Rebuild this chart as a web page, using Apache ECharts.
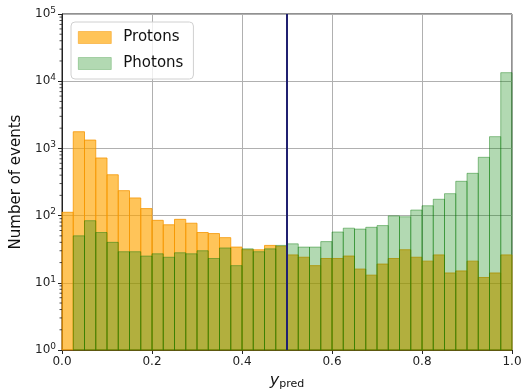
<!DOCTYPE html>
<html>
<head>
<meta charset="utf-8">
<script src="https://cdn.jsdelivr.net/npm/echarts@6/dist/echarts.min.js"></script>
<style>
  html, body { margin: 0; padding: 0; background: #fff; }
  #chart { width: 523px; height: 389px; }
</style>
</head>
<body>
<div id="chart"></div>
<script>
// Histogram of the classifier output y_pred: 40 bins of width 0.025 on [0, 1]
const binEdges = [0.000, 0.025, 0.050, 0.075, 0.100, 0.125, 0.150, 0.175, 0.200, 0.225,
                  0.250, 0.275, 0.300, 0.325, 0.350, 0.375, 0.400, 0.425, 0.450, 0.475,
                  0.500, 0.525, 0.550, 0.575, 0.600, 0.625, 0.650, 0.675, 0.700, 0.725,
                  0.750, 0.775, 0.800, 0.825, 0.850, 0.875, 0.900, 0.925, 0.950, 0.975, 1.000];

const protonCounts = [112, 1770, 1330, 720, 405, 235, 183, 127, 85, 73,
                      88, 77, 56, 54, 47, 34, 31, 31, 36, 35,
                      26, 24, 18, 23, 23, 25, 16, 13, 19, 23,
                      31, 24, 21, 26, 14, 15, 21, 12, 14, 26];

const photonCounts = [0, 50, 84, 56, 40, 29, 29, 25, 27, 24,
                      28, 27, 30, 23, 33, 18, 32, 29, 32, 36,
                      38, 34, 34, 41, 57, 65, 63, 67, 71, 99,
                      96, 121, 140, 175, 212, 324, 426, 737, 1496, 13400];

const yTickValues = [1, 10, 100, 1000, 10000, 100000];
const xTickValues = [0, 0.2, 0.4, 0.6, 0.8, 1.0];
const cutValue = 0.5;

function histData(counts) {
  return counts.map((c, i) => [binEdges[i], binEdges[i + 1], c]);
}

function barRenderer(fill, stroke) {
  return function (params, api) {
    const count = api.value(2);
    if (!(count > 0)) return null;
    const p0 = api.coord([api.value(0), count]);
    const p1 = api.coord([api.value(1), 1]);
    return {
      type: 'rect',
      shape: { x: p0[0], y: p0[1], width: p1[0] - p0[0], height: p1[1] - p0[1] },
      style: { fill: fill, stroke: stroke, lineWidth: 1 }
    };
  };
}

// minor ticks of the log axis at 2..9 x 10^k
const minorTickValues = [];
for (let k = 0; k < 5; k++) {
  for (let m = 2; m <= 9; m++) minorTickValues.push([m * Math.pow(10, k)]);
}

const orangeFill = 'rgba(255,165,0,0.65)';
const orangeEdge = 'rgba(245,150,0,0.8)';
const greenFill = 'rgba(0,128,0,0.3)';
const greenEdge = 'rgba(0,120,0,0.42)';

const chart = echarts.init(document.getElementById('chart'), null, { renderer: 'canvas' });

chart.setOption({
  animation: false,
  textStyle: { fontFamily: 'DejaVu Sans' },
  grid: {
    left: 62, right: 11, top: 14, bottom: 39,
    outerBoundsMode: 'none',
    containLabel: false,
    show: true, borderColor: '#222', borderWidth: 1, backgroundColor: 'transparent'
  },
  legend: {
    left: 71, top: 22,
    orient: 'vertical',
    itemWidth: 33, itemHeight: 12, itemGap: 11,
    padding: [8, 10, 8, 7],
    backgroundColor: 'rgba(255,255,255,0.8)',
    borderColor: '#d0d0d0', borderWidth: 1, borderRadius: 4,
    textStyle: { fontSize: 15, color: '#111', padding: [0, 0, 0, 7] },
    itemStyle: { borderWidth: 0.6 },
    icon: 'rect',
    data: ['Protons', 'Photons']
  },
  xAxis: {
    type: 'value', min: 0, max: 1, interval: 0.2,
    name: '{i|y}{s|pred}',
    nameLocation: 'middle', nameGap: 22,
    nameTextStyle: {
      rich: {
        i: { fontSize: 16, fontStyle: 'italic', color: '#111', fontFamily: 'DejaVu Sans' },
        s: { fontSize: 11, color: '#111', fontFamily: 'DejaVu Sans', padding: [6, 0, 0, 0] }
      }
    },
    axisLine: { show: true, onZero: false, lineStyle: { color: '#222', width: 1 } },
    axisTick: { show: true, inside: false, length: 4, lineStyle: { color: '#222' } },
    axisLabel: { fontSize: 12, color: '#222', margin: 6, formatter: v => v.toFixed(1) },
    splitLine: { show: true, lineStyle: { color: '#b0b0b0', width: 1 } }
  },
  yAxis: {
    type: 'log', logBase: 10, min: 1, max: 100000,
    name: 'Number of events',
    nameLocation: 'middle', nameGap: 35,
    nameTextStyle: { fontSize: 15, color: '#111' },
    axisLine: { show: true, lineStyle: { color: '#222', width: 1 } },
    axisTick: { show: true, inside: false, length: 4, lineStyle: { color: '#222' } },
    axisLabel: {
      color: '#222', margin: 6,
      formatter: v => '{b|10}{e|' + Math.round(Math.log10(v)) + '}',
      rich: {
        b: { fontSize: 12, color: '#222' },
        e: { fontSize: 9, color: '#222', padding: [0, 0, 7, 0] }
      }
    },
    splitLine: { show: true, lineStyle: { color: '#b0b0b0', width: 1 } }
  },
  series: [
    {
      name: 'Protons',
      type: 'custom',
      renderItem: barRenderer(orangeFill, orangeEdge),
      itemStyle: { color: orangeFill, borderColor: orangeEdge, borderWidth: 1 },
      encode: { x: [0, 1], y: 2 },
      data: histData(protonCounts),
      z: 2
    },
    {
      name: 'Photons',
      type: 'custom',
      renderItem: barRenderer(greenFill, greenEdge),
      itemStyle: { color: greenFill, borderColor: greenEdge, borderWidth: 1 },
      encode: { x: [0, 1], y: 2 },
      data: histData(photonCounts),
      z: 3,
      markLine: {
        silent: true,
        symbol: 'none',
        label: { show: false },
        lineStyle: { color: '#202070', width: 2, type: 'solid' },
        data: [{ xAxis: cutValue }]
      }
    },
    {
      name: 'minorTicks',
      type: 'custom',
      silent: true,
      clip: false,
      renderItem: function (params, api) {
        const p = api.coord([0, api.value(0)]);
        return {
          type: 'line',
          shape: { x1: p[0] - 2.5, y1: p[1], x2: p[0], y2: p[1] },
          style: { stroke: '#222', lineWidth: 0.8 }
        };
      },
      encode: { y: 0 },
      data: minorTickValues,
      z: 5
    }
  ]
});
</script>
</body>
</html>
